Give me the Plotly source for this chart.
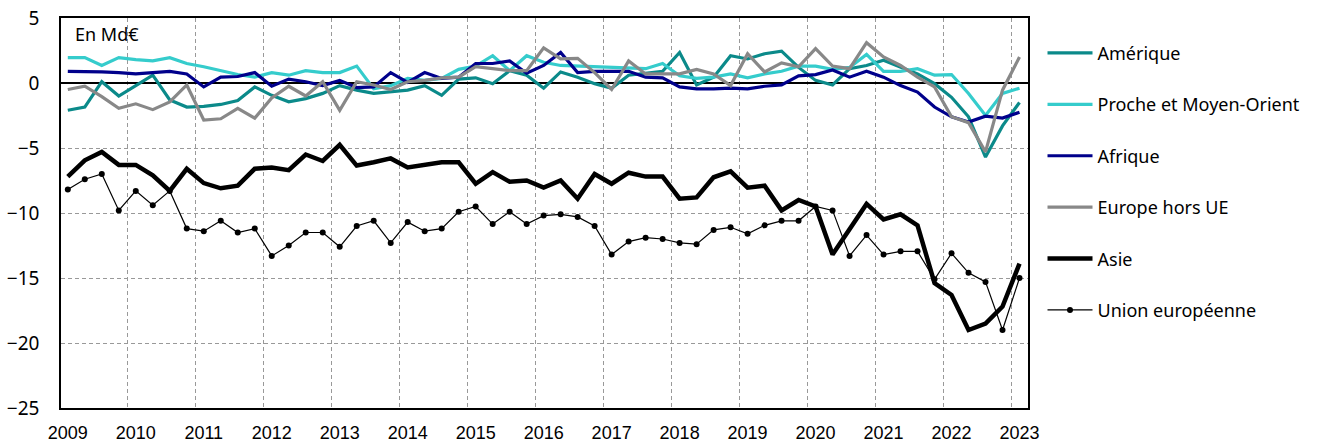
import plotly.graph_objects as go

years = [str(y) for y in range(2009, 2024)]
n_quarters = 57  # 2009T1 .. 2023T1

amerique = [-2.1, -1.85, 0.1, -1.0, -0.2, 0.6, -1.3, -1.85, -1.8, -1.65, -1.35, -0.3, -0.95, -1.45, -1.2,
            -0.8, -0.2, -0.55, -0.8, -0.65, -0.55, -0.2, -0.95, 0.3, 0.4, -0.05, 0.95, 0.6, -0.4, 0.85,
            0.45, -0.05, -0.4, 0.6, 0.75, 0.9, 2.35, -0.15, 0.45, 2.1, 1.85, 2.25, 2.45, 1.2, 0.2,
            -0.15, 1.1, 1.35, 1.75, 1.2, 0.7, -0.05, -1.1, -2.6, -5.7, -3.3, -1.5]
proche_moyen_orient = [1.95, 1.95, 1.35, 1.95, 1.8, 1.7, 1.95, 1.5, 1.25, 0.95, 0.65, 0.45, 0.8, 0.6, 0.95,
                       0.8, 0.8, 1.3, -0.45, -0.2, 0.35, 0.2, 0.35, 1.05, 1.3, 2.1, 0.95, 2.1, 1.6, 1.35,
                       1.3, 1.25, 1.15, 1.1, 1.1, 1.5, 0.55, 0.35, 0.45, 0.7, 0.4, 0.7, 0.9, 1.3, 1.3,
                       1.05, 1.2, 2.2, 0.9, 0.9, 1.1, 0.6, 0.65, -0.8, -2.5, -0.8, -0.4]
afrique = [0.9, 0.9, 0.85, 0.8, 0.7, 0.8, 0.9, 0.7, -0.3, 0.45, 0.5, 0.8, -0.25, 0.3, 0.1,
           -0.2, 0.2, -0.35, -0.3, 0.8, 0.05, 0.8, 0.35, 0.45, 1.5, 1.5, 1.7, 0.75, 1.35, 2.35,
           0.8, 0.9, 0.9, 0.9, 0.45, 0.4, -0.3, -0.45, -0.45, -0.4, -0.45, -0.25, -0.15, 0.55, 0.65,
           1.0, 0.45, 0.9, 0.45, -0.2, -0.7, -1.85, -2.6, -3.0, -2.55, -2.7, -2.25]
europe_hors_ue = [-0.5, -0.25, -1.05, -1.95, -1.6, -2.05, -1.45, -0.15, -2.85, -2.75, -1.95, -2.7, -1.15, -0.25, -1.0,
                  0.1, -2.1, 0.1, -0.15, -0.5, 0.1, 0.2, 0.4, 0.45, 1.25, 1.1, 0.95, 0.95, 2.7, 1.85,
                  1.9, 0.8, -0.5, 1.7, 0.7, 0.7, 0.7, 1.05, 0.7, -0.2, 2.25, 0.85, 1.55, 1.25, 2.65,
                  1.3, 1.1, 3.1, 2.0, 1.35, 0.45, -0.3, -2.6, -3.05, -5.3, -0.55, 2.0]
asie = [-7.2, -5.95, -5.3, -6.3, -6.3, -7.1, -8.3, -6.6, -7.7, -8.1, -7.9, -6.6, -6.5, -6.7, -5.5,
        -6.0, -4.75, -6.35, -6.1, -5.8, -6.5, -6.3, -6.1, -6.1, -7.75, -6.85, -7.6, -7.5, -8.05, -7.5,
        -8.9, -7.0, -7.75, -6.9, -7.2, -7.2, -8.9, -8.8, -7.25, -6.8, -8.05, -7.9, -9.8, -9.0, -9.5,
        -13.2, -11.3, -9.3, -10.5, -10.1, -10.95, -15.4, -16.3, -19.0, -18.5, -17.2, -13.9]
union_europeenne = [-8.2, -7.4, -7.0, -9.8, -8.3, -9.4, -8.3, -11.2, -11.4, -10.6, -11.5, -11.2, -13.3, -12.5, -11.5,
                    -11.5, -12.6, -11.0, -10.6, -12.3, -10.7, -11.4, -11.2, -9.9, -9.5, -10.85, -9.9, -10.85, -10.2, -10.1,
                    -10.3, -11.0, -13.2, -12.2, -11.9, -12.0, -12.3, -12.4, -11.3, -11.1, -11.6, -10.95, -10.6, -10.6, -9.5,
                    -9.8, -13.3, -11.7, -13.2, -12.95, -12.95, -15.1, -13.1, -14.6, -15.3, -19.0, -15.0]

x = list(range(n_quarters))

series = [
    ("Amérique", amerique, "#0B8A8A", 3.2, False),
    ("Proche et Moyen-Orient", proche_moyen_orient, "#35CCCC", 3.2, False),
    ("Afrique", afrique, "#00008B", 3.2, False),
    ("Europe hors UE", europe_hors_ue, "#888888", 3.2, False),
    ("Asie", asie, "#000000", 4.5, False),
    ("Union européenne", union_europeenne, "#000000", 1.2, True),
]

fig = go.Figure()
for i, (name, vals, color, w, markers) in enumerate(series):
    fig.add_trace(go.Scatter(
        x=x, y=vals, name=name, legendgroup=f"g{i}",
        mode="lines+markers" if markers else "lines",
        line=dict(color=color, width=w),
        marker=dict(size=6, color=color) if markers else None,
    ))

font_family = "Liberation Sans Narrow, Liberation Sans, Arial, sans-serif"
fig.update_layout(
    width=1317, height=446,
    margin=dict(l=61, r=289, t=18, b=38),
    plot_bgcolor="white", paper_bgcolor="white",
    font=dict(family="Noto Sans, sans-serif", size=16, color="black"),
    showlegend=True,
    legend=dict(x=1.015, y=0.957, xanchor="left", yanchor="top",
                font=dict(size=18, family="Noto Sans, sans-serif"),
                itemwidth=45, tracegroupgap=25, bgcolor="rgba(0,0,0,0)"),
    annotations=[dict(text="En Md€", x=0.012, y=0.995, xref="paper", yref="paper",
                      xanchor="left", yanchor="top", showarrow=False,
                      font=dict(size=18, family="Noto Sans, sans-serif"))],
)
fig.update_xaxes(
    range=[-0.4, 56.5], automargin=False,
    tickmode="array", tickvals=[4 * k for k in range(len(years))], ticktext=years,
    showgrid=False, ticks="", ticklabelstandoff=8,
    tickfont=dict(size=18, family=font_family),
    showline=True, linecolor="black", linewidth=1.5, mirror=True,
    zeroline=False,
    minor=dict(tickmode="array", tickvals=[4 * k - 0.5 for k in range(1, len(years))],
               showgrid=True, gridcolor="#999999", griddash="4px,3px", gridwidth=1, ticks=""),
)
fig.update_yaxes(
    range=[-25, 5], dtick=5, tick0=0, automargin=False,
    showgrid=True, gridcolor="#999999", griddash="4px,3px", gridwidth=1,
    zeroline=True, zerolinecolor="black", zerolinewidth=1.5,
    showline=True, linecolor="black", linewidth=1.5, mirror=True,
    ticks="", ticklabelstandoff=16,
    tickfont=dict(size=19, family="Noto Sans, sans-serif"),
)

# remove the default 8px page margin so the figure sits at the window origin
fig.write_html("out.html", config={"displayModeBar": False},
               post_script="document.body.style.margin='0px';")
